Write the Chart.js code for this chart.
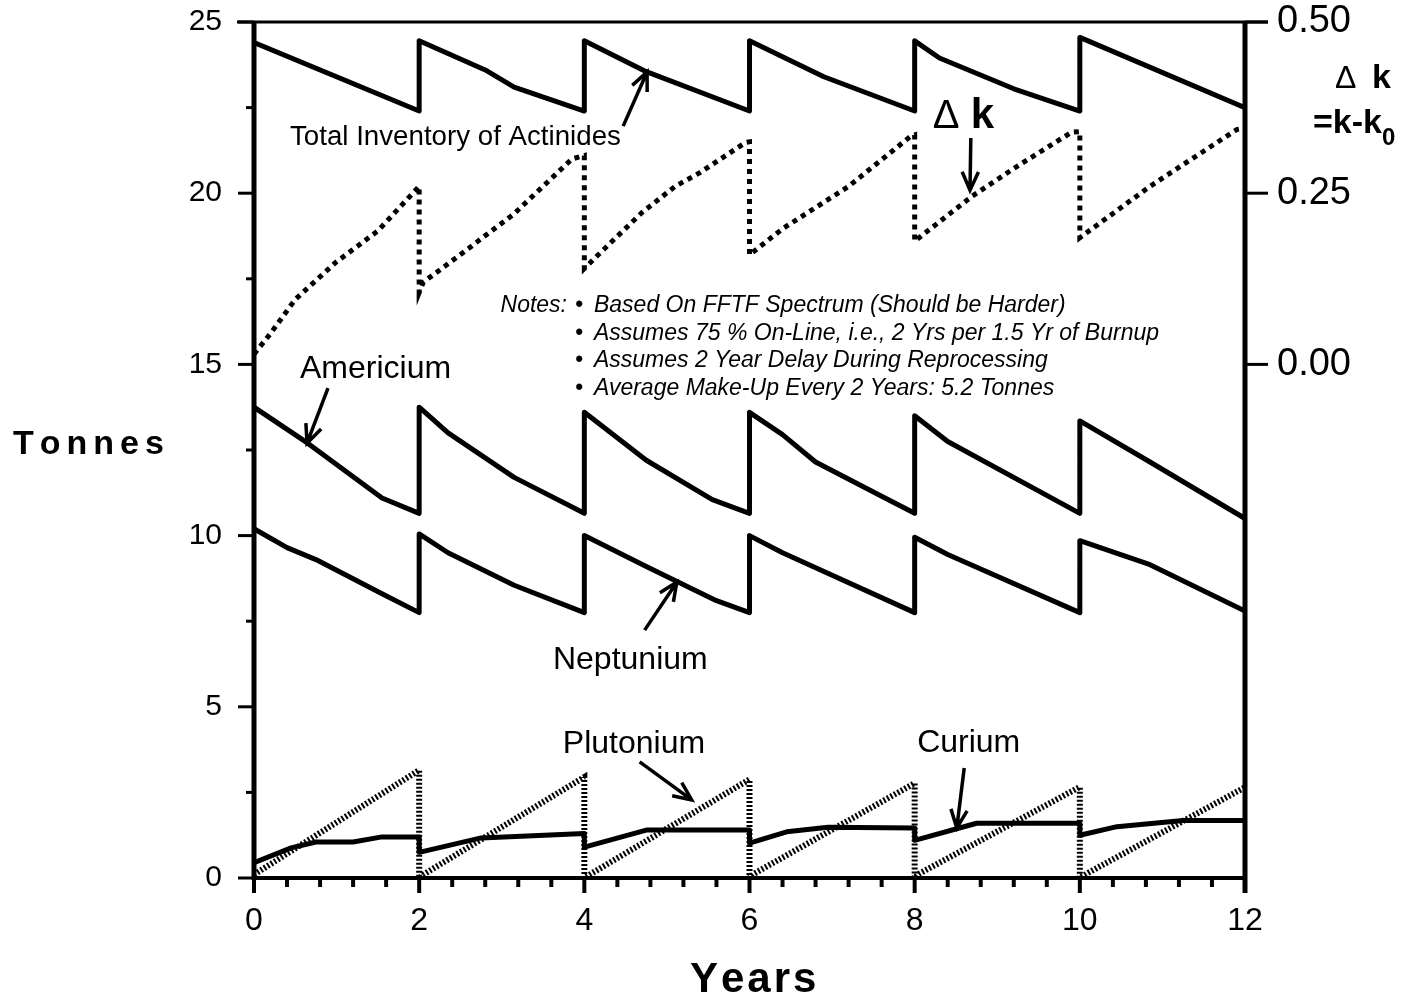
<!DOCTYPE html>
<html>
<head>
<meta charset="utf-8">
<title>Actinide inventory</title>
<script src="https://cdn.jsdelivr.net/npm/chart.js@4.4.1/dist/chart.umd.min.js"></script>
<style>
  html, body { margin: 0; padding: 0; background: #fff; }
  #wrap { width: 1424px; height: 998px; }
</style>
</head>
<body>
<div id="wrap"><canvas id="chart" width="1424" height="998"></canvas></div>
<script>
// values (years, tonnes / delta k)
const totalYears  = [0, 2, 2, 2.8, 3.15, 4, 4, 4.75, 6, 6, 6.9, 8, 8, 8.3, 9.2, 10, 10, 12];
const totalTonnes = [24.4, 22.4, 24.45, 23.6, 23.1, 22.4, 24.45, 23.55, 22.4, 24.45, 23.4, 22.4, 24.45, 23.95, 23.05, 22.4, 24.55, 22.5];

const amYears  = [0, 0.65, 1.55, 2, 2, 2.35, 3.15, 4, 4, 4.75, 5.55, 6, 6, 6.4, 6.8, 7.6, 8, 8, 8.4, 10, 10, 10.85, 12];
const amTonnes = [13.75, 12.7, 11.1, 10.65, 13.75, 13.0, 11.7, 10.65, 13.6, 12.2, 11.05, 10.65, 13.6, 12.95, 12.15, 11.15, 10.65, 13.5, 12.75, 10.65, 13.35, 12.15, 10.5];

const npYears  = [0, 0.4, 0.75, 1.55, 2, 2, 2.35, 3.15, 4, 4, 4.75, 5.6, 6, 6, 6.4, 8, 8, 8.4, 10, 10, 10.85, 12];
const npTonnes = [10.2, 9.65, 9.3, 8.3, 7.75, 10.05, 9.5, 8.55, 7.75, 10.0, 9.1, 8.1, 7.75, 10.0, 9.5, 7.75, 9.95, 9.45, 7.75, 9.85, 9.15, 7.8];

const puYears  = [0, 2, 2, 2.05, 4, 4, 4.1, 6, 6, 6.05, 8, 8, 8.05, 10, 10, 10.1, 12];
const puTonnes = [0.1, 3.15, 0, 0.1, 2.95, 0, 0.15, 2.88, 0, 0.12, 2.77, 0, 0.12, 2.66, 0, 0.15, 2.65];

const cmYears  = [0, 0.45, 0.75, 1.2, 1.55, 2, 2, 2.75, 4, 4, 4.75, 6, 6, 6.45, 6.95, 8, 8, 8.75, 10, 10, 10.45, 11.25, 12];
const cmTonnes = [0.45, 0.88, 1.05, 1.05, 1.2, 1.2, 0.75, 1.17, 1.3, 0.9, 1.4, 1.4, 1.02, 1.35, 1.48, 1.46, 1.1, 1.6, 1.6, 1.25, 1.5, 1.68, 1.68];

const dkYears  = [0, 0.2, 0.5, 1.0, 1.5, 2, 2, 2.05, 2.55, 3.15, 3.85, 4, 4, 4.15, 4.7, 5.1, 5.4, 5.95, 6, 6, 6.4, 7.2, 7.95, 8, 8, 8.7, 9.25, 9.9, 10, 10, 10.85, 11.9, 12];
const dkValues = [0.015, 0.045, 0.095, 0.15, 0.195, 0.26, 0.105, 0.12, 0.165, 0.22, 0.30, 0.305, 0.14, 0.158, 0.222, 0.26, 0.28, 0.324, 0.325, 0.16, 0.198, 0.26, 0.333, 0.335, 0.18, 0.246, 0.29, 0.339, 0.34, 0.185, 0.26, 0.343, 0.345];

const xTickLabels = [0, 2, 4, 6, 8, 10, 12];
const dkTickLabels = [0, 0.25, 0.5];

const notes = [
  'Based On FFTF Spectrum (Should be Harder)',
  'Assumes 75 % On-Line, i.e., 2 Yrs per 1.5 Yr of Burnup',
  'Assumes 2 Year Delay During Reprocessing',
  'Average Make-Up Every 2 Years: 5.2 Tonnes'
];

const FONT = '"Liberation Sans", Arial, Helvetica, sans-serif';

function pts(xs, ys) {
  return xs.map((x, i) => ({ x: x, y: ys[i] }));
}

function solid(data) {
  return { data: data, borderColor: '#000', borderWidth: 5, borderJoinStyle: 'round', pointRadius: 0, yAxisID: 'y' };
}

// labels and arrows, placed in data units (years, tonnes)
const labels = [
  { text: 'Total Inventory of Actinides', x: 0.436, y: 21.41, font: '27.7px ' + FONT },
  { text: 'Americium', x: 0.557, y: 14.60, font: '32px ' + FONT },
  { text: 'Neptunium', x: 3.62, y: 6.10, font: '32px ' + FONT },
  { text: 'Plutonium', x: 3.74, y: 3.65, font: '32px ' + FONT },
  { text: 'Curium', x: 8.03, y: 3.68, font: '32px ' + FONT }
];
const arrows = [
  { from: [4.47, 21.96], to: [4.76, 23.54] },
  { from: [8.68, 21.61], to: [8.67, 20.09] },
  { from: [0.896, 14.31], to: [0.642, 12.70] },
  { from: [4.73, 7.24], to: [5.12, 8.64] },
  { from: [4.67, 3.39], to: [5.30, 2.28] },
  { from: [8.60, 3.21], to: [8.51, 1.46] }
];

function drawArrow(ctx, x1, y1, x2, y2) {
  const a = Math.atan2(y2 - y1, x2 - x1);
  const len = 20, spread = 0.42;
  ctx.beginPath();
  ctx.moveTo(x1, y1);
  ctx.lineTo(x2, y2);
  ctx.moveTo(x2 - len * Math.cos(a - spread), y2 - len * Math.sin(a - spread));
  ctx.lineTo(x2, y2);
  ctx.lineTo(x2 - len * Math.cos(a + spread), y2 - len * Math.sin(a + spread));
  ctx.stroke();
}

function spaced(ctx, str, x, y, gap) {
  let cx = x;
  for (const ch of str) {
    ctx.fillText(ch, cx, y);
    cx += ctx.measureText(ch).width + gap;
  }
  return cx - gap;
}

const framePlugin = {
  id: 'frame',
  afterDraw(chart) {
    const ctx = chart.ctx;
    const xs = chart.scales.x, ys = chart.scales.y, ks = chart.scales.y2;
    const L = xs.left, R = xs.right, T = ys.top, B = ys.bottom;
    ctx.save();
    ctx.strokeStyle = '#000';
    ctx.fillStyle = '#000';
    ctx.lineCap = 'butt';

    // frame
    ctx.lineWidth = 3;
    ctx.beginPath(); ctx.moveTo(L - 17, T); ctx.lineTo(R + 23, T); ctx.stroke();
    ctx.lineWidth = 5;
    ctx.beginPath(); ctx.moveTo(L, T); ctx.lineTo(L, B + 2); ctx.stroke();
    ctx.beginPath(); ctx.moveTo(R, T); ctx.lineTo(R, B + 15); ctx.stroke();
    ctx.lineWidth = 4;
    ctx.beginPath(); ctx.moveTo(L, B); ctx.lineTo(R, B); ctx.stroke();

    // left ticks every 2.5
    ctx.lineWidth = 3;
    for (let v = 0; v <= 25; v += 2.5) {
      const p = ys.getPixelForValue(v);
      const len = v % 5 === 0 ? 16 : 8;
      ctx.beginPath(); ctx.moveTo(L - len, p); ctx.lineTo(L, p); ctx.stroke();
    }
    // right ticks
    dkTickLabels.forEach(v => {
      const p = ks.getPixelForValue(v);
      ctx.beginPath(); ctx.moveTo(R, p); ctx.lineTo(R + 23, p); ctx.stroke();
    });
    // bottom ticks every 0.4 year
    ctx.lineWidth = 4;
    for (let i = 0; i <= 30; i++) {
      const p = xs.getPixelForValue(i * 0.4);
      const len = i % 5 === 0 ? 15 : 9;
      ctx.beginPath(); ctx.moveTo(p, B); ctx.lineTo(p, B + len); ctx.stroke();
    }

    // labels
    ctx.textBaseline = 'alphabetic';
    ctx.textAlign = 'left';
    labels.forEach(l => {
      ctx.font = l.font;
      ctx.fillText(l.text, xs.getPixelForValue(l.x), ys.getPixelForValue(l.y));
    });
    ctx.lineWidth = 3.5;
    arrows.forEach(a => {
      drawArrow(ctx, xs.getPixelForValue(a.from[0]), ys.getPixelForValue(a.from[1]),
                xs.getPixelForValue(a.to[0]), ys.getPixelForValue(a.to[1]));
    });

    // delta k label inside the plot
    let dx = xs.getPixelForValue(8.22), dy = ys.getPixelForValue(21.9);
    ctx.font = '40px ' + FONT;
    ctx.fillText('\u0394', dx, dy);
    ctx.font = 'bold 42px ' + FONT;
    ctx.fillText('k', dx + 38, dy);

    // notes block
    const nx = xs.getPixelForValue(3.79);
    const rows = [16.53, 15.71, 14.92, 14.11];
    ctx.font = 'italic 23px ' + FONT;
    ctx.textAlign = 'right';
    ctx.fillText('Notes:', nx, ys.getPixelForValue(rows[0]));
    ctx.textAlign = 'left';
    notes.forEach((n, i) => {
      const py = ys.getPixelForValue(rows[i]);
      ctx.fillText('\u2022', nx + 8, py);
      ctx.fillText(n, nx + 27, py);
    });

    // axis titles
    ctx.font = 'bold 34px ' + FONT;
    spaced(ctx, 'Tonnes', 13, 454, 6);
    ctx.font = 'bold 42px ' + FONT;
    spaced(ctx, 'Years', 690, 992, 3);

    // right axis title
    ctx.textAlign = 'left';
    ctx.font = '32px ' + FONT;
    ctx.fillText('\u0394', 1335, 88);
    ctx.font = 'bold 34px ' + FONT;
    ctx.fillText('k', 1372, 88);
    const w = ctx.measureText('=k-k').width;
    ctx.fillText('=k-k', 1313, 133);
    ctx.font = 'bold 24px ' + FONT;
    ctx.fillText('0', 1313 + w, 145);

    ctx.restore();
  }
};

new Chart(document.getElementById('chart'), {
  type: 'line',
  data: {
    datasets: [
      solid(pts(totalYears, totalTonnes)),
      solid(pts(amYears, amTonnes)),
      solid(pts(npYears, npTonnes)),
      solid(pts(cmYears, cmTonnes)),
      { data: pts(puYears, puTonnes), borderColor: '#000', borderWidth: 6, borderDash: [2, 2],
        pointRadius: 0, yAxisID: 'y' },
      { data: pts(dkYears, dkValues), borderColor: '#000', borderWidth: 5, borderDash: [5, 5],
        pointRadius: 0, yAxisID: 'y2' }
    ]
  },
  options: {
    responsive: false,
    animation: false,
    devicePixelRatio: 1,
    layout: { padding: { top: 22, left: 0, right: 0, bottom: 0 } },
    plugins: { legend: { display: false }, tooltip: { enabled: false } },
    elements: { line: { tension: 0 } },
    scales: {
      x: {
        type: 'linear', position: 'bottom', min: 0, max: 12,
        grid: { display: false, drawTicks: false }, border: { display: false },
        afterBuildTicks: s => { s.ticks = xTickLabels.map(v => ({ value: v })); },
        ticks: { color: '#000', padding: 24, maxRotation: 0, autoSkip: false,
                 font: { family: FONT, size: 32 } },
        afterFit: s => { s.height = 120; s.paddingLeft = 0; s.paddingRight = 0; }
      },
      y: {
        position: 'left', min: 0, max: 25,
        grid: { display: false, drawTicks: false }, border: { display: false },
        ticks: { stepSize: 5, color: '#000', padding: 32, font: { family: FONT, size: 30 } },
        afterFit: s => { s.width = 254; s.paddingTop = 0; s.paddingBottom = 0; }
      },
      y2: {
        position: 'right', min: -0.75, max: 0.5,
        grid: { display: false, drawTicks: false }, border: { display: false },
        afterBuildTicks: s => { s.ticks = dkTickLabels.map(v => ({ value: v })); },
        ticks: { color: '#000', padding: 32, font: { family: FONT, size: 38 },
                 callback: v => v.toFixed(2) },
        afterFit: s => { s.width = 179; s.paddingTop = 0; s.paddingBottom = 0; }
      }
    }
  },
  plugins: [framePlugin]
});
</script>
</body>
</html>
